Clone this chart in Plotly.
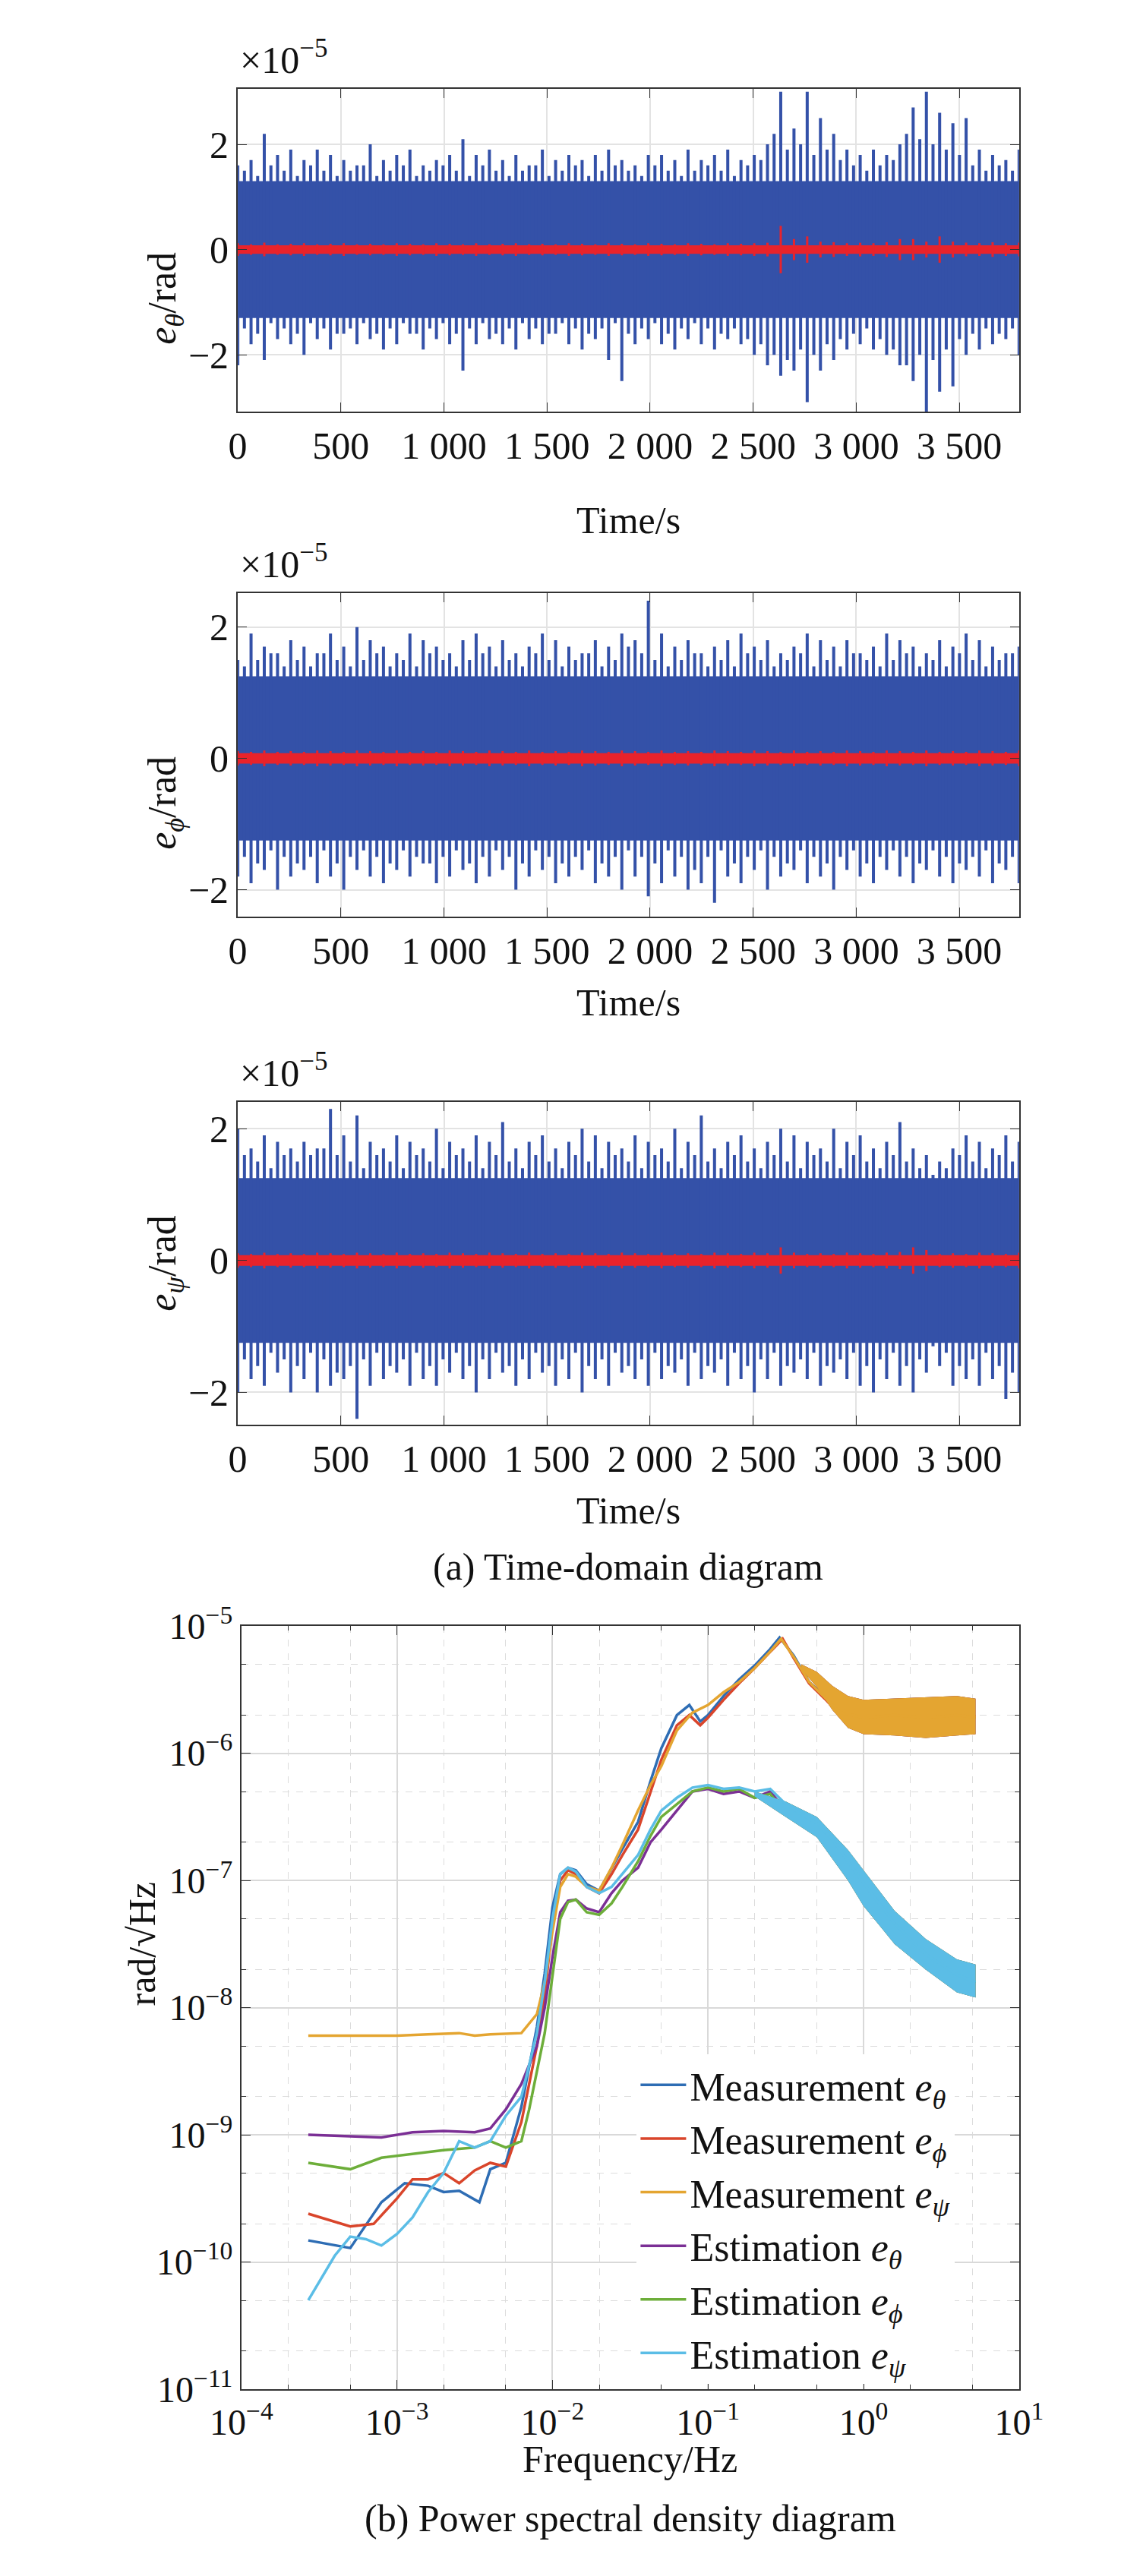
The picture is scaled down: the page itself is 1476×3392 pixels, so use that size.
import plotly.graph_objects as go

W, H = 1476, 3392
FONT = "Liberation Serif"

# ---------------- time-domain data (units 1e-5 rad) ----------------
T_END = 3790
P1_hi = [1.6,1.7,2.2,1.8,1.9,1.7,1.9,1.8,1.7,1.6,2.0,1.7,1.8,1.9,1.6,1.7,1.8,2.1,1.8,1.9,1.7,1.8,1.6,1.9,1.7,1.8,1.7,1.8,1.9,1.7,1.6,1.8,1.8,1.7,1.9,1.7,1.8,1.9,1.7,1.8,2.0,3.0,2.3,3.0,2.5,2.2,1.9,1.8,1.9,1.8,2.0,2.7,3.0,2.6,2.4,2.5,1.9,1.8,1.7,1.9]
P1_lo = [-2.2,-1.8,-2.1,-1.7,-1.8,-2.0,-1.7,-1.9,-1.6,-1.8,-1.7,-1.9,-1.8,-1.6,-1.9,-1.7,-1.8,-2.3,-1.8,-1.7,-1.8,-1.9,-1.7,-1.8,-1.6,-1.8,-1.9,-1.7,-2.1,-2.5,-1.8,-1.7,-1.8,-1.9,-1.7,-1.8,-1.9,-1.7,-1.8,-2.0,-2.2,-2.4,-2.3,-2.9,-2.3,-2.1,-1.9,-1.8,-1.9,-2.0,-2.2,-2.5,-3.1,-2.7,-2.6,-2.0,-1.9,-1.8,-1.7,-2.0]
P1_hi2 = [1.5,1.4,1.6,1.5,1.4,1.6,1.5,1.4,1.5,1.6,1.4,1.5,1.6,1.4,1.5,1.6,1.5,1.4,1.6,1.5,1.4,1.5,1.6,1.4,1.5,1.6,1.4,1.5,1.6,1.5,1.4,1.6,1.5,1.4,1.5,1.6,1.5,1.4,1.6,1.7,2.2,1.9,2.0,1.8,1.9,1.7,1.6,1.5,1.6,1.7,2.2,2.1,2.0,1.9,1.8,1.6,1.5,1.6,1.5]
P1_lo2 = [-1.5,-1.6,-1.4,-1.5,-1.6,-1.4,-1.5,-1.6,-1.5,-1.4,-1.6,-1.5,-1.4,-1.6,-1.5,-1.4,-1.6,-1.5,-1.4,-1.6,-1.5,-1.4,-1.5,-1.6,-1.4,-1.5,-1.6,-1.5,-1.4,-1.6,-1.5,-1.4,-1.6,-1.5,-1.4,-1.5,-1.6,-1.5,-1.7,-1.8,-2.0,-2.1,-1.9,-2.0,-1.8,-1.7,-1.6,-1.5,-1.7,-1.9,-2.2,-2.0,-2.1,-1.9,-1.7,-1.6,-1.5,-1.6,-1.5]
P2_hi = [1.5,1.9,1.7,1.6,1.8,1.7,1.6,1.9,1.7,2.0,1.8,1.7,1.6,1.9,1.8,1.7,1.6,1.8,1.9,1.7,1.8,1.6,1.7,1.9,1.8,1.7,1.6,1.8,1.7,1.9,1.8,2.4,1.9,1.7,1.8,1.6,1.7,1.8,1.9,1.7,1.8,1.6,1.7,1.9,1.8,1.7,1.8,1.6,1.7,1.9,1.8,1.7,1.6,1.8,1.7,1.9,1.8,1.7,1.6,1.7]
P2_lo = [-1.8,-1.9,-1.7,-2.0,-1.8,-1.7,-1.9,-1.8,-2.0,-1.7,-1.8,-1.9,-1.7,-1.8,-1.6,-1.9,-1.8,-1.7,-1.9,-1.8,-1.7,-2.0,-1.8,-1.7,-1.9,-1.8,-1.7,-1.9,-1.8,-2.0,-1.8,-2.1,-1.9,-1.8,-2.0,-1.9,-2.2,-1.8,-1.9,-1.7,-2.0,-1.8,-1.7,-1.9,-1.8,-2.0,-1.7,-1.8,-1.9,-1.7,-1.8,-1.9,-1.7,-1.8,-1.9,-1.7,-1.8,-1.9,-1.7,-1.9]
P2_hi2 = [1.4,1.5,1.6,1.4,1.5,1.4,1.6,1.5,1.4,1.5,1.6,1.4,1.5,1.4,1.6,1.5,1.4,1.5,1.6,1.4,1.5,1.4,1.6,1.5,1.4,1.5,1.6,1.4,1.5,1.7,1.6,1.5,1.4,1.5,1.6,1.4,1.5,1.4,1.6,1.5,1.4,1.5,1.6,1.4,1.5,1.4,1.6,1.5,1.4,1.5,1.6,1.4,1.5,1.4,1.6,1.5,1.4,1.5,1.6]
P2_lo2 = [-1.5,-1.6,-1.4,-1.5,-1.6,-1.5,-1.4,-1.6,-1.5,-1.4,-1.5,-1.6,-1.4,-1.5,-1.6,-1.5,-1.4,-1.6,-1.5,-1.4,-1.5,-1.6,-1.4,-1.5,-1.6,-1.5,-1.4,-1.6,-1.5,-1.4,-1.5,-1.6,-1.4,-1.5,-1.7,-1.5,-1.4,-1.6,-1.5,-1.4,-1.5,-1.6,-1.4,-1.5,-1.6,-1.5,-1.4,-1.6,-1.5,-1.4,-1.5,-1.6,-1.4,-1.5,-1.6,-1.5,-1.4,-1.6,-1.5]
P3_hi = [2.0,1.7,1.9,1.8,1.7,1.8,1.7,2.3,1.9,2.2,1.8,1.7,1.9,1.8,1.7,2.0,1.8,1.7,1.9,1.8,2.1,1.7,1.8,1.9,1.7,1.8,2.0,1.9,1.8,1.7,1.9,1.8,1.7,2.0,1.8,2.2,1.7,1.8,1.9,1.7,1.8,2.0,1.9,1.8,1.7,2.0,1.8,1.9,1.7,1.8,2.1,1.7,1.6,1.5,1.7,1.9,1.8,1.7,1.9,1.8]
P3_lo = [-2.0,-1.8,-1.9,-1.7,-2.0,-1.8,-2.0,-1.9,-1.8,-2.4,-1.9,-1.8,-1.7,-1.9,-1.8,-1.9,-1.7,-1.8,-2.0,-1.8,-1.7,-1.9,-1.8,-1.7,-1.9,-1.8,-2.0,-1.8,-1.9,-1.7,-1.8,-1.9,-1.8,-1.7,-1.9,-1.8,-1.7,-1.9,-1.8,-2.0,-1.8,-1.9,-1.7,-1.8,-1.9,-1.7,-1.8,-1.9,-2.0,-1.8,-1.9,-2.0,-1.7,-1.6,-1.9,-1.8,-1.9,-1.8,-2.1,-2.0]
P3_hi2 = [1.6,1.5,1.4,1.6,1.5,1.6,1.7,1.6,1.5,1.4,1.6,1.5,1.4,1.6,1.5,1.4,1.6,1.5,1.4,1.6,1.5,1.4,1.6,1.5,1.4,1.6,1.5,1.4,1.6,1.5,1.4,1.6,1.5,1.4,1.6,1.5,1.4,1.6,1.5,1.4,1.6,1.5,1.4,1.6,1.5,1.4,1.6,1.5,1.4,1.6,1.5,1.4,1.3,1.4,1.6,1.5,1.4,1.6,1.5]
P3_lo2 = [-1.5,-1.6,-1.4,-1.5,-1.6,-1.4,-1.5,-1.7,-1.6,-1.5,-1.4,-1.6,-1.5,-1.4,-1.6,-1.5,-1.4,-1.6,-1.5,-1.4,-1.6,-1.5,-1.4,-1.6,-1.5,-1.4,-1.6,-1.5,-1.4,-1.6,-1.5,-1.4,-1.6,-1.5,-1.4,-1.6,-1.5,-1.4,-1.6,-1.5,-1.4,-1.6,-1.5,-1.4,-1.6,-1.5,-1.4,-1.6,-1.5,-1.4,-1.6,-1.5,-1.3,-1.4,-1.6,-1.5,-1.4,-1.6,-1.7]
CORE = [1.3, 1.25, 1.25]
R1 = [0.12,0.1,0.13,0.1,0.11,0.12,0.1,0.11,0.12,0.1,0.11,0.1,0.12,0.11,0.1,0.12,0.11,0.1,0.12,0.1,0.11,0.12,0.1,0.11,0.1,0.12,0.11,0.1,0.12,0.11,0.1,0.12,0.11,0.1,0.12,0.11,0.1,0.12,0.11,0.12,0.13,0.45,0.2,0.25,0.15,0.14,0.12,0.13,0.12,0.14,0.2,0.2,0.15,0.25,0.15,0.13,0.12,0.14,0.12,0.13]
R2 = [0.11,0.1,0.12,0.1,0.11,0.1,0.12,0.11,0.1,0.12,0.11,0.1,0.12,0.1,0.11,0.1,0.12,0.11,0.1,0.12,0.11,0.1,0.12,0.1,0.11,0.1,0.12,0.11,0.1,0.12,0.11,0.1,0.12,0.1,0.11,0.1,0.12,0.11,0.1,0.12,0.11,0.1,0.12,0.1,0.11,0.1,0.12,0.11,0.1,0.12,0.11,0.1,0.12,0.1,0.11,0.1,0.12,0.11,0.1,0.12]
R3 = [0.11,0.1,0.12,0.1,0.11,0.1,0.12,0.11,0.1,0.12,0.11,0.1,0.12,0.1,0.11,0.1,0.12,0.11,0.1,0.12,0.11,0.1,0.12,0.1,0.11,0.1,0.12,0.11,0.1,0.12,0.11,0.1,0.12,0.1,0.11,0.1,0.12,0.11,0.1,0.12,0.11,0.2,0.12,0.1,0.11,0.1,0.12,0.11,0.1,0.12,0.13,0.2,0.16,0.1,0.11,0.1,0.12,0.11,0.1,0.12]
TIME_TICKS = [0, 500, 1000, 1500, 2000, 2500, 3000, 3500]
TIME_TICKTEXT = ["0", "500", "1 000", "1 500", "2 000", "2 500", "3 000", "3 500"]

# ---------------- PSD data (log10 f, log10 amplitude) ----------------
MT_f = [-3.57,-3.3,-3.1,-2.95,-2.8,-2.7,-2.6,-2.47,-2.4,-2.3,-2.2,-2.1,-2.05,-2.0,-1.95,-1.9,-1.85,-1.78,-1.7,-1.62,-1.55,-1.45,-1.37,-1.3,-1.2,-1.12,-1.05,-1.0,-0.9,-0.8,-0.7,-0.6,-0.54,-0.45,-0.35,-0.25,-0.15,0.0,0.2,0.4,0.6,0.72]
MT_y = [-9.83,-9.89,-9.53,-9.38,-9.4,-9.45,-9.44,-9.53,-9.27,-9.22,-8.78,-8.15,-7.73,-7.21,-6.95,-6.9,-6.92,-7.03,-7.08,-6.9,-6.75,-6.54,-6.22,-5.96,-5.7,-5.62,-5.75,-5.7,-5.55,-5.42,-5.31,-5.18,-5.09,-5.23,-5.44,-5.55,-5.68,-5.72,-5.7,-5.71,-5.7,-5.72]
MP_f = [-3.57,-3.3,-3.15,-3.0,-2.9,-2.8,-2.7,-2.6,-2.5,-2.4,-2.3,-2.2,-2.1,-2.05,-2.0,-1.95,-1.9,-1.85,-1.78,-1.7,-1.62,-1.55,-1.45,-1.37,-1.3,-1.2,-1.12,-1.05,-1.0,-0.9,-0.8,-0.7,-0.6,-0.52,-0.45,-0.35,-0.25,-0.15,0.0,0.2,0.4,0.6,0.72]
MP_y = [-9.62,-9.72,-9.7,-9.5,-9.35,-9.35,-9.3,-9.38,-9.28,-9.22,-9.25,-8.9,-8.3,-7.9,-7.35,-7.0,-6.92,-6.95,-7.05,-7.1,-6.95,-6.8,-6.6,-6.3,-6.05,-5.78,-5.7,-5.78,-5.72,-5.58,-5.45,-5.33,-5.2,-5.1,-5.25,-5.45,-5.57,-5.7,-5.73,-5.72,-5.7,-5.72,-5.71]
MS_f = [-3.57,-3.3,-3.0,-2.8,-2.6,-2.5,-2.4,-2.2,-2.1,-2.05,-2.0,-1.95,-1.9,-1.85,-1.78,-1.7,-1.62,-1.55,-1.45,-1.37,-1.3,-1.2,-1.1,-1.0,-0.9,-0.8,-0.7,-0.6,-0.53,-0.45,-0.35,-0.25,-0.15,0.0,0.2,0.4,0.6,0.72]
MS_y = [-8.22,-8.22,-8.22,-8.21,-8.2,-8.22,-8.21,-8.2,-8.05,-7.8,-7.4,-7.05,-6.95,-6.97,-7.05,-7.08,-6.9,-6.72,-6.45,-6.25,-6.1,-5.82,-5.68,-5.62,-5.52,-5.44,-5.33,-5.2,-5.1,-5.24,-5.44,-5.56,-5.68,-5.72,-5.7,-5.72,-5.7,-5.72]
ET_f = [-3.57,-3.1,-2.9,-2.7,-2.5,-2.4,-2.3,-2.2,-2.1,-2.05,-2.0,-1.95,-1.9,-1.85,-1.78,-1.7,-1.62,-1.55,-1.45,-1.37,-1.3,-1.2,-1.1,-1.0,-0.9,-0.8,-0.7,-0.6,-0.5,-0.4,-0.3,-0.2,-0.1,0.0,0.1,0.2,0.3,0.4,0.5,0.6,0.72]
ET_y = [-9.0,-9.02,-8.98,-8.97,-8.98,-8.95,-8.8,-8.6,-8.3,-8.0,-7.6,-7.25,-7.16,-7.15,-7.22,-7.25,-7.1,-7.0,-6.9,-6.7,-6.6,-6.45,-6.3,-6.28,-6.32,-6.3,-6.35,-6.3,-6.45,-6.5,-6.58,-6.72,-6.88,-7.08,-7.2,-7.36,-7.48,-7.58,-7.66,-7.74,-7.8]
EP_f = [-3.57,-3.3,-3.1,-2.9,-2.7,-2.5,-2.4,-2.3,-2.2,-2.15,-2.05,-2.0,-1.95,-1.9,-1.85,-1.78,-1.7,-1.62,-1.55,-1.45,-1.37,-1.3,-1.2,-1.1,-1.0,-0.9,-0.8,-0.7,-0.6,-0.5,-0.4,-0.3,-0.2,-0.1,0.0,0.1,0.2,0.3,0.4,0.5,0.6,0.72]
EP_y = [-9.22,-9.27,-9.18,-9.15,-9.12,-9.1,-9.05,-9.1,-9.05,-8.8,-8.2,-7.75,-7.3,-7.17,-7.15,-7.25,-7.27,-7.18,-7.05,-6.85,-6.65,-6.5,-6.4,-6.3,-6.27,-6.3,-6.28,-6.35,-6.32,-6.47,-6.52,-6.6,-6.75,-6.9,-7.08,-7.22,-7.36,-7.47,-7.57,-7.66,-7.74,-7.8]
ES_f = [-3.57,-3.4,-3.3,-3.2,-3.1,-3.0,-2.9,-2.8,-2.7,-2.6,-2.5,-2.4,-2.3,-2.2,-2.1,-2.05,-2.0,-1.95,-1.9,-1.85,-1.78,-1.7,-1.62,-1.55,-1.45,-1.37,-1.3,-1.2,-1.1,-1.0,-0.9,-0.8,-0.7,-0.6,-0.5,-0.4,-0.3,-0.2,-0.1,0.0,0.1,0.2,0.3,0.4,0.5,0.6,0.72]
ES_y = [-10.3,-9.95,-9.8,-9.82,-9.87,-9.78,-9.65,-9.45,-9.3,-9.05,-9.1,-9.05,-8.85,-8.7,-8.2,-7.8,-7.3,-6.95,-6.9,-6.93,-7.05,-7.1,-7.05,-6.95,-6.8,-6.6,-6.45,-6.35,-6.27,-6.25,-6.28,-6.27,-6.3,-6.28,-6.4,-6.48,-6.55,-6.68,-6.85,-7.02,-7.18,-7.34,-7.46,-7.58,-7.66,-7.74,-7.8]
# noisy-band envelopes at high frequency (log10 f, upper, lower)
MEAS_BAND_f = [-0.4, -0.3, -0.2, -0.1, 0.0, 0.2, 0.4, 0.6, 0.72]
MEAS_BAND_hi = [-5.3, -5.36, -5.47, -5.55, -5.58, -5.57, -5.56, -5.55, -5.57]
MEAS_BAND_lo = [-5.34, -5.48, -5.66, -5.8, -5.85, -5.86, -5.88, -5.86, -5.85]
EST_BAND_f = [-0.7, -0.5, -0.3, -0.1, 0.0, 0.2, 0.4, 0.6, 0.72]
EST_BAND_hi = [-6.3, -6.38, -6.5, -6.76, -6.92, -7.24, -7.46, -7.62, -7.66]
EST_BAND_lo = [-6.34, -6.5, -6.66, -7.0, -7.2, -7.5, -7.7, -7.88, -7.92]
PSD_TICKS_Y = [-11, -10, -9, -8, -7, -6, -5]
PSD_TICKS_X = [-4, -3, -2, -1, 0, 1]

BLUE = "#3451A8"
RED = "#E8232B"

def px(x): return x / W
def py(y): return 1 - y / H

fig = go.Figure()

panels = [
    (P1_hi, P1_lo, P1_hi2, P1_lo2, R1, CORE[0], (77, 510), (-3.08, 3.06), "θ"),
    (P2_hi, P2_lo, P2_hi2, P2_lo2, R2, CORE[1], (753, 1187), (-2.41, 2.52), "ϕ"),
    (P3_hi, P3_lo, P3_hi2, P3_lo2, R3, CORE[2], (1435, 1868), (-2.49, 2.41), "ψ"),
]
XL, XR = 277, 1360
TXT = dict(family=FONT, size=50, color="#111")
axis_common = dict(showline=True, linecolor="#333", linewidth=2, mirror="ticks",
                   ticks="inside", ticklen=12, tickcolor="#333", showgrid=True,
                   gridcolor="#e3e3e3", gridwidth=1.5, zeroline=False,
                   tickfont=dict(family=FONT, size=50, color="#111"))
for k, (hi, lo, hi2, lo2, ramp, core, (top, bot), yr, sym) in enumerate(panels):
    n = len(hi)
    dt = T_END / (n - 1)
    ts = [i * dt for i in range(n)]
    ts2 = [(i + 0.5) * dt for i in range(n - 1)]
    xa = "x" if k == 0 else f"x{k+1}"
    ya = "y" if k == 0 else f"y{k+1}"
    fig.add_trace(go.Scatter(x=ts + ts[::-1], y=[core * 1e-5] * n + [-core * 1e-5] * n,
                             fill="toself", fillcolor=BLUE, line=dict(width=0),
                             mode="lines", xaxis=xa, yaxis=ya, showlegend=False, hoverinfo="skip"))
    sx, sy = [], []
    for t, h, l in zip(ts, hi, lo):
        sx += [t, t, None]; sy += [l * 1e-5, h * 1e-5, None]
    for t, h, l in zip(ts2, hi2, lo2):
        sx += [t, t, None]; sy += [l * 1e-5, h * 1e-5, None]
    fig.add_trace(go.Scatter(x=sx, y=sy, mode="lines", line=dict(color=BLUE, width=4),
                             xaxis=xa, yaxis=ya, showlegend=False, hoverinfo="skip"))
    fig.add_trace(go.Scatter(x=ts + ts[::-1], y=[0.08e-5] * n + [-0.08e-5] * n,
                             fill="toself", fillcolor=RED, line=dict(width=0),
                             mode="lines", xaxis=xa, yaxis=ya, showlegend=False, hoverinfo="skip"))
    rx, ry = [], []
    for t, a in zip(ts, ramp):
        rx += [t, t, None]; ry += [-a * 1e-5, a * 1e-5, None]
    fig.add_trace(go.Scatter(x=rx, y=ry, mode="lines", line=dict(color=RED, width=3),
                             xaxis=xa, yaxis=ya, showlegend=False, hoverinfo="skip"))
    xkey = "xaxis" if k == 0 else f"xaxis{k+1}"
    ykey = "yaxis" if k == 0 else f"yaxis{k+1}"
    fig.update_layout(**{
        xkey: dict(axis_common, domain=[px(XL), px(XR)], anchor=ya, range=[0, T_END],
                   tickvals=TIME_TICKS, ticktext=TIME_TICKTEXT),
        ykey: dict(axis_common, domain=[py(bot), py(top)], anchor=xa,
                   range=[yr[0] * 1e-5, yr[1] * 1e-5], tickvals=[-2e-5, 0, 2e-5],
                   ticktext=["−2", "0", "2"]),
    })
    fig.add_annotation(xref="paper", yref="paper", x=px(278), y=py(top - 8), xanchor="left",
                       yanchor="bottom", showarrow=False, text="×10<sup>−5</sup>", font=TXT)
    fig.add_annotation(xref="paper", yref="paper", x=px(140), y=py((top + bot) / 2),
                       textangle=-90, showarrow=False,
                       text=f"<i>e</i><sub><i>{sym}</i></sub>/rad", font=dict(TXT, size=52))
    fig.add_annotation(xref="paper", yref="paper", x=px((XL + XR) / 2), y=py(bot + 115),
                       showarrow=False, text="Time/s", font=TXT)

fig.add_annotation(xref="paper", yref="paper", x=px((XL + XR) / 2), y=py(2058),
                   showarrow=False, text="(a) Time-domain diagram", font=TXT)

# PSD
PL, PR, PT, PB = 282, 1360, 2138, 3161
curves = [
    ("Measurement <i>e</i><sub><i>θ</i></sub>", MT_f, MT_y, "#2E6DB4", "m"),
    ("Measurement <i>e</i><sub><i>ϕ</i></sub>", MP_f, MP_y, "#D9452B", "m"),
    ("Measurement <i>e</i><sub><i>ψ</i></sub>", MS_f, MS_y, "#E4A531", "m"),
    ("Estimation <i>e</i><sub><i>θ</i></sub>", ET_f, ET_y, "#7B2F95", "e"),
    ("Estimation <i>e</i><sub><i>ϕ</i></sub>", EP_f, EP_y, "#6DAE3A", "e"),
    ("Estimation <i>e</i><sub><i>ψ</i></sub>", ES_f, ES_y, "#5BBDE6", "e"),
]
for name, lf, ly, col, grp in curves:
    bf, bh, bl = (MEAS_BAND_f, MEAS_BAND_hi, MEAS_BAND_lo) if grp == "m" else (EST_BAND_f, EST_BAND_hi, EST_BAND_lo)
    fig.add_trace(go.Scatter(x=[10 ** v for v in bf + bf[::-1]],
                             y=[10 ** v for v in bh + bl[::-1]],
                             fill="toself", fillcolor=col, line=dict(width=0), mode="lines",
                             xaxis="x4", yaxis="y4", showlegend=False, hoverinfo="skip"))
    fig.add_trace(go.Scatter(x=[10 ** v for v in lf], y=[10 ** v for v in ly], mode="lines",
                             name=name, line=dict(color=col, width=3.5),
                             xaxis="x4", yaxis="y4"))
psd_ax = dict(axis_common, type="log", gridcolor="#d9d9d9",
              tickfont=dict(family=FONT, size=48, color="#111"),
              minor=dict(showgrid=True, gridcolor="#dcdcdc", griddash="dash", ticks="inside",
                         ticklen=6, tickcolor="#333", gridwidth=1))
fig.update_layout(
    xaxis4=dict(psd_ax, domain=[px(PL), px(PR)], anchor="y4", range=[-4, 1],
                tickvals=[10 ** v for v in PSD_TICKS_X],
                ticktext=[f"10<sup>{'−' if v < 0 else ''}{abs(v)}</sup>" for v in PSD_TICKS_X]),
    yaxis4=dict(psd_ax, domain=[py(PB), py(PT)], anchor="x4", range=[-11, -5],
                tickvals=[10 ** v for v in PSD_TICKS_Y],
                ticktext=[f"10<sup>−{abs(v)}</sup>" for v in PSD_TICKS_Y]),
)
fig.add_annotation(xref="paper", yref="paper", x=px(113), y=py((PT + PB) / 2), textangle=-90,
                   showarrow=False, text="rad/√Hz", font=TXT)
fig.add_annotation(xref="paper", yref="paper", x=px((PL + PR) / 2), y=py(3285),
                   showarrow=False, text="Frequency/Hz", font=TXT)
fig.add_annotation(xref="paper", yref="paper", x=px((PL + PR) / 2), y=py(3365),
                   showarrow=False, text="(b) Power spectral density diagram", font=TXT)

fig.update_layout(
    width=W, height=H, margin=dict(l=0, r=0, t=0, b=0),
    font=dict(family=FONT, color="#111"),
    paper_bgcolor="white", plot_bgcolor="white",
    legend=dict(x=px(830), y=py(2712), xanchor="left", yanchor="top",
                bgcolor="white", borderwidth=0, tracegroupgap=0,
                font=dict(family=FONT, size=52, color="#111"), itemwidth=60),
)
fig.write_html("out.html")
